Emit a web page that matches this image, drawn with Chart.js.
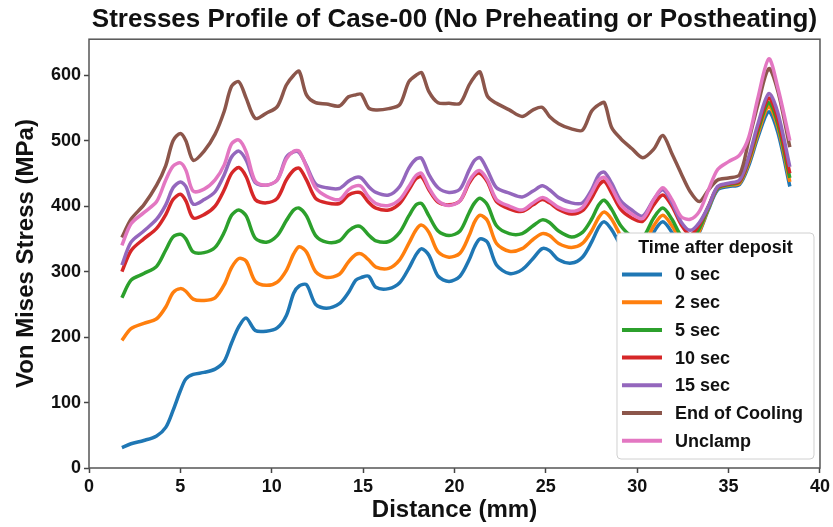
<!DOCTYPE html>
<html>
<head>
<meta charset="utf-8">
<title>Stresses Profile of Case-00</title>
<script src="https://cdn.jsdelivr.net/npm/chart.js@4.4.0/dist/chart.umd.min.js"></script>
<style>
  html, body { margin: 0; padding: 0; background: #fff; }
  #wrap { position: relative; width: 833px; height: 527px; }
</style>
</head>
<body>
<div id="wrap"><canvas id="chart"></canvas></div>
<script>
// distance along the part (mm), shared by every series
const distance = [1.8, 2.3, 3.0, 3.7, 4.2, 4.6, 5.0, 5.3, 5.7, 6.3,
  6.9, 7.4, 7.8, 8.2, 8.6, 9.1, 9.7, 10.3, 10.8, 11.2,
  11.5, 11.9, 12.4, 13.0, 13.7, 14.2, 14.6, 14.9, 15.3, 15.7,
  16.4, 17.0, 17.5, 17.9, 18.2, 18.6, 19.1, 19.7, 20.3, 20.8,
  21.1, 21.4, 21.8, 22.3, 23.0, 23.7, 24.3, 24.8, 25.2, 25.7,
  26.4, 27.0, 27.5, 27.9, 28.2, 28.6, 29.1, 29.7, 30.3, 30.9,
  31.4, 31.9, 32.4, 32.9, 33.4, 33.9, 34.4, 35.0, 35.6, 36.1,
  36.6, 37.2, 37.7, 38.35];

// von Mises stress (MPa)
const stress0s = [31, 37, 42, 49, 62, 88, 118, 136, 143, 146,
  151, 163, 191, 216, 229, 210, 209, 214, 233, 267,
  278, 280, 250, 244, 251, 268, 287, 291, 293, 276,
  274, 283, 305, 326, 335, 325, 293, 285, 293, 318,
  338, 350, 345, 310, 297, 303, 320, 335, 332, 318,
  313, 322, 345, 368, 376, 364, 340, 322, 325, 360,
  376, 360, 338, 335, 360, 395, 425, 430, 433, 462,
  505, 544, 512, 430];
const stress2s = [195, 213, 221, 228, 246, 268, 274, 270, 258, 256,
  260, 280, 306, 320, 316, 285, 279, 284, 302, 327,
  338, 330, 300, 291, 296, 315, 326, 327, 318, 307,
  305, 318, 343, 364, 371, 360, 330, 322, 328, 355,
  376, 386, 378, 343, 331, 335, 349, 358, 355, 343,
  337, 343, 362, 383, 391, 380, 355, 338, 338, 370,
  386, 370, 348, 342, 362, 397, 427, 432, 435, 466,
  510, 552, 520, 437];
const stress5s = [260, 287, 297, 308, 333, 353, 357, 350, 330, 329,
  337, 360, 386, 394, 385, 351, 345, 355, 378, 394,
  397, 385, 355, 345, 347, 362, 369, 368, 356, 347,
  346, 360, 385, 402, 404, 385, 362, 355, 362, 390,
  405, 412, 402, 370, 358, 358, 370, 379, 375, 362,
  353, 360, 380, 402, 409, 395, 370, 354, 352, 382,
  397, 380, 355, 348, 366, 398, 428, 433, 437, 470,
  515, 558, 525, 443];
const stress10s = [300, 332, 350, 366, 387, 410, 418, 408, 382, 387,
  400, 425, 450, 459, 445, 410, 405, 412, 440, 455,
  458, 440, 412, 405, 404, 417, 421, 420, 406, 397,
  394, 404, 425, 442, 445, 425, 406, 402, 408, 435,
  447, 450, 437, 407, 396, 392, 402, 410, 405, 395,
  388, 393, 412, 432, 438, 420, 395, 382, 377, 402,
  417, 400, 372, 356, 372, 400, 429, 434, 438, 472,
  520, 565, 532, 450];
const stress15s = [310, 345, 362, 380, 402, 428, 437, 430, 403, 410,
  422, 448, 475, 484, 470, 436, 432, 440, 475, 483,
  482, 462, 434, 428, 427, 438, 444, 443, 430, 421,
  417, 430, 458, 472, 473, 448, 428, 421, 426, 455,
  470, 474, 455, 428, 420, 414, 423, 431, 425, 413,
  405, 405, 425, 448, 452, 435, 408, 394, 385, 410,
  425, 405, 376, 363, 375, 400, 430, 435, 440, 475,
  525, 572, 542, 460];
const stressEndCooling = [352, 380, 402, 432, 462, 500, 511, 500, 470, 484,
  510, 545, 583, 590, 565, 534, 542, 552, 585, 600,
  606, 570, 558, 556, 553, 567, 570, 571, 550, 547,
  549, 555, 590, 600, 604, 575, 558, 557, 557, 585,
  598, 605, 568, 557, 547, 537, 547, 551, 537, 526,
  518, 516, 545, 555, 558, 520, 503, 488, 474, 487,
  508, 480, 450, 422, 407, 425, 440, 443, 448, 500,
  555, 610, 575, 490];
const stressUnclamp = [340, 373, 390, 407, 440, 461, 466, 455, 423, 426,
  440, 463, 495, 501, 483, 438, 432, 440, 472, 484,
  484, 460, 428, 415, 410, 425, 431, 430, 414, 404,
  401, 410, 430, 447, 450, 428, 408, 401, 408, 438,
  450, 454, 440, 410, 400, 394, 405, 413, 408, 398,
  392, 398, 420, 440, 444, 428, 402, 388, 381, 410,
  428, 410, 384, 380, 392, 425, 456, 468, 478, 505,
  565, 625, 580, 500];

const seriesNames = ["0 sec", "2 sec", "5 sec", "10 sec", "15 sec", "End of Cooling", "Unclamp"];
const seriesValues = [stress0s, stress2s, stress5s, stress10s, stress15s, stressEndCooling, stressUnclamp];
const seriesColors = ["#1f77b4", "#ff7f0e", "#2ca02c", "#d62728", "#9467bd", "#8c564b", "#e377c2"];

const xTickValues = [0, 5, 10, 15, 20, 25, 30, 35, 40];
const yTickValues = [0, 100, 200, 300, 400, 500, 600];

const FONT = "'Liberation Sans', Arial, sans-serif";

// matplotlib-like frame on all four sides
const frame = {
  id: "frame",
  afterDatasetsDraw(chart) {
    const { ctx, chartArea: a } = chart;
    ctx.save();
    ctx.strokeStyle = "#555";
    ctx.lineWidth = 1.5;
    ctx.strokeRect(a.left, a.top, a.right - a.left, a.bottom - a.top);
    ctx.restore();
  }
};

// legend box sitting inside the plot, lower right
const boxLegend = {
  id: "boxLegend",
  afterDatasetsDraw(chart) {
    const { ctx, chartArea: a } = chart;
    const w = 197, h = 226;
    const x = a.right - 6 - w, y = a.bottom - 9 - h;
    ctx.save();
    ctx.beginPath();
    const r = 4;
    ctx.moveTo(x + r, y);
    ctx.arcTo(x + w, y, x + w, y + h, r);
    ctx.arcTo(x + w, y + h, x, y + h, r);
    ctx.arcTo(x, y + h, x, y, r);
    ctx.arcTo(x, y, x + w, y, r);
    ctx.closePath();
    ctx.fillStyle = "#fff";
    ctx.fill();
    ctx.strokeStyle = "#d0d0d0";
    ctx.lineWidth = 1;
    ctx.stroke();

    ctx.fillStyle = "#111";
    ctx.textBaseline = "middle";
    ctx.font = "bold 18px " + FONT;
    ctx.textAlign = "center";
    ctx.fillText("Time after deposit", x + w / 2, y + 15);

    ctx.textAlign = "left";
    chart.data.datasets.forEach((ds, i) => {
      const ly = y + 41.5 + i * 27.7;
      ctx.strokeStyle = ds.borderColor;
      ctx.lineWidth = 4;
      ctx.beginPath();
      ctx.moveTo(x + 5, ly);
      ctx.lineTo(x + 45, ly);
      ctx.stroke();
      ctx.fillStyle = "#111";
      ctx.fillText(ds.label, x + 58, ly + 1);
    });
    ctx.restore();
  }
};

const datasets = seriesNames.map((name, i) => ({
  label: name,
  data: distance.map((d, j) => ({ x: d, y: seriesValues[i][j] })),
  borderColor: seriesColors[i],
  backgroundColor: seriesColors[i],
  borderWidth: 3.5,
  pointRadius: 0,
  tension: 0.3,
  fill: false,
  order: seriesNames.length - i
}));

new Chart(document.getElementById("chart"), {
  type: "line",
  data: { datasets },
  options: {
    responsive: true,
    maintainAspectRatio: false,
    animation: false,
    layout: { padding: { left: 0, right: 13, top: 0, bottom: 0 } },
    plugins: {
      legend: { display: false },
      tooltip: { enabled: false },
      title: {
        display: true,
        fullSize: false,
        text: "Stresses Profile of Case-00 (No Preheating or Postheating)",
        color: "#111",
        font: { family: FONT, size: 26, weight: "bold" },
        padding: { top: 4, bottom: 4 }
      }
    },
    scales: {
      x: {
        type: "linear",
        min: 0,
        max: 40,
        afterFit: (s) => { s.height = 59; },
        afterBuildTicks: (s) => { s.ticks = xTickValues.map((v) => ({ value: v })); },
        border: { display: false },
        grid: { drawOnChartArea: false, drawTicks: true, tickLength: 5, tickColor: "#444", tickWidth: 1.5 },
        ticks: { color: "#111", padding: 3, font: { family: FONT, size: 18, weight: "bold" } },
        title: {
          display: true,
          text: "Distance (mm)",
          color: "#111",
          font: { family: FONT, size: 24, weight: "bold" },
          padding: { top: 0, bottom: 2 }
        }
      },
      y: {
        min: 0,
        max: 655,
        afterFit: (s) => { s.width = 89; },
        afterBuildTicks: (s) => { s.ticks = yTickValues.map((v) => ({ value: v })); },
        border: { display: false },
        grid: { drawOnChartArea: false, drawTicks: true, tickLength: 5, tickColor: "#444", tickWidth: 1.5 },
        ticks: { color: "#111", padding: 3, font: { family: FONT, size: 18, weight: "bold" } },
        title: {
          display: true,
          text: "Von Mises Stress (MPa)",
          color: "#111",
          font: { family: FONT, size: 24, weight: "bold" },
          padding: { top: 12, bottom: 0 }
        }
      }
    }
  },
  plugins: [frame, boxLegend]
});
</script>
</body>
</html>
